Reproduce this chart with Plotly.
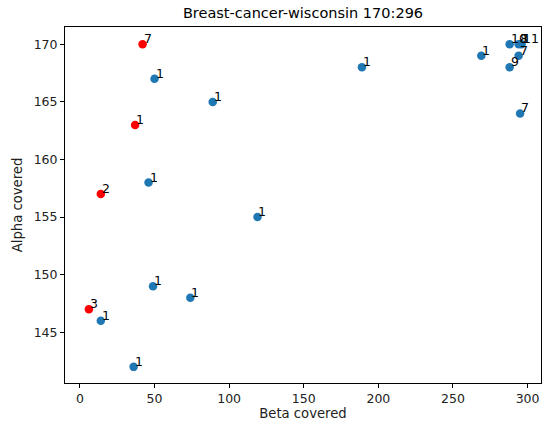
import plotly.graph_objects as go

# Data
beta = [42, 37, 14, 6,
        50, 89, 46, 119, 49, 74, 14, 36, 189, 269, 288, 294, 296, 294, 288, 295]
alpha = [170, 163, 157, 147,
         167, 165, 158, 155, 149, 148, 146, 142, 168, 169, 170, 170, 170, 169, 168, 164]
labels = ["7", "1", "2", "3",
          "1", "1", "1", "1", "1", "1", "1", "1", "1", "1", "10", "8", "11", "7", "9", "7"]
highlighted = [True, True, True, True] + [False] * 16

title = "Breast-cancer-wisconsin 170:296"
x_title = "Beta covered"
y_title = "Alpha covered"
x_ticks = [0, 50, 100, 150, 200, 250, 300]
y_ticks = [145, 150, 155, 160, 165, 170]

FONT = "DejaVu Sans"
colors = ["#ff0000" if h else "#1f77b4" for h in highlighted]

fig = go.Figure()
fig.add_trace(go.Scatter(
    x=beta, y=alpha, mode="markers",
    marker=dict(color=colors, size=8.5, line=dict(width=0)),
    showlegend=False, hoverinfo="x+y",
))

for xv, yv, t in zip(beta, alpha, labels):
    fig.add_annotation(x=xv, y=yv, text=t, showarrow=False,
                       xanchor="left", yanchor="bottom", yshift=-4, xshift=-1,
                       font=dict(family=FONT, size=12.5, color="black"))

axis_common = dict(showline=True, linecolor="black", linewidth=1, mirror=True,
                   ticks="outside", ticklen=4, tickcolor="black", showgrid=False,
                   zeroline=False, automargin=False,
                   tickfont=dict(family=FONT, size=12.5, color="#222"))

fig.update_layout(
    width=543, height=427,
    margin=dict(l=65, r=2, t=27, b=44, autoexpand=False),
    paper_bgcolor="white", plot_bgcolor="white",
    title=dict(text=title, x=0.558, xanchor="center", y=0.969, yanchor="middle",
               font=dict(family=FONT, size=14.5, color="black")),
    xaxis=dict(range=[-10, 309], tickvals=x_ticks,
               title=dict(text=x_title, font=dict(family=FONT, size=13.2, color="#222"), standoff=2),
               **axis_common),
    yaxis=dict(range=[140.6, 171.5], tickvals=y_ticks,
               title=dict(text=y_title, font=dict(family=FONT, size=13.2, color="#222"), standoff=8),
               **axis_common),
)

fig.write_html(
    "out.html",
    config={"displayModeBar": False},
    post_script="document.body.style.margin='0';document.body.style.overflow='hidden';",
)
